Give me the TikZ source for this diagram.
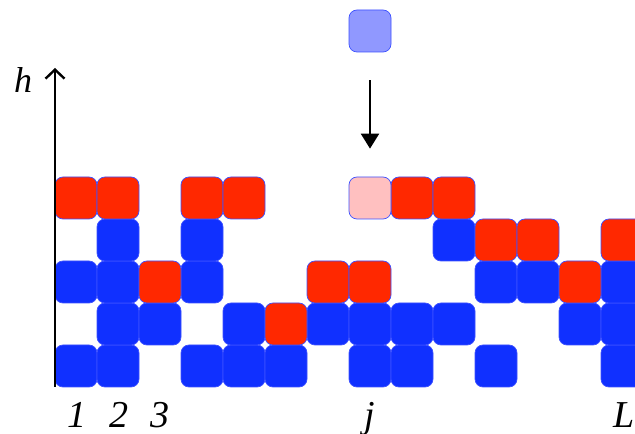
\documentclass[tikz,border=0pt]{standalone}
\usepackage{fontspec}
\setmainfont{Liberation Serif}
\usetikzlibrary{arrows.meta, positioning}
\definecolor{cellblue}{RGB}{16,48,255}
\definecolor{cellred}{RGB}{255,40,0}
\definecolor{cellpink}{RGB}{255,192,192}
\definecolor{droppale}{RGB}{144,152,255}
\definecolor{cellline}{RGB}{60,80,255}
\tikzset{cell/.style={draw=cellline, line width=0.7pt, rounded corners=8pt, minimum size=42pt, inner sep=0pt},
  bluecell/.style={cell, fill=cellblue},
  redcell/.style={cell, fill=cellred},
  lab/.style={anchor=base, inner sep=0pt, font=\fontsize{38}{38}\selectfont\itshape}}

\begin{document}
\begin{tikzpicture}[x=1pt, y=1pt]
    \useasboundingbox (0,0) rectangle (635,434);

    % Blue cells (column/row)
    \foreach \c/\r in {1/1,1/3,2/1,2/2,2/3,2/4,3/2,4/1,4/3,4/4,5/1,5/2,6/1,7/2,8/1,8/2,9/1,9/2,10/2,10/4,11/1,11/3,12/3,13/2,14/1,14/2,14/3}
        \node[bluecell] (c-\c-\r) at (34+42*\c, 26+42*\r) {};

    % Red cells
    \foreach \c/\r in {1/5,2/5,3/3,4/5,5/5,6/2,7/3,8/3,9/5,10/5,11/4,12/4,13/3,14/4}
        \node[redcell] (c-\c-\r) at (34+42*\c, 26+42*\r) {};

    % Landing place and falling cell
    \node[cell, fill=cellpink] (c-8-5) at (370, 236) {};
    \node[cell, fill=droppale] (drop) at (370, 403) {};
    \draw[line width=2.2pt, -{Triangle[length=15pt, width=18pt]}] ([yshift=-28pt]drop.south) -- ([yshift=28pt]c-8-5.north);

    % Height axis
    \coordinate (origin) at (55,47);
    \coordinate (htop) at (55,366);
    \draw[line width=2.4pt, -{Straight Barb[length=9pt, width=19pt]}] (origin) -- (htop);
    \node[lab, font=\fontsize{36}{36}\selectfont\itshape] (h) at (23,341) {h};

    % Column labels
    \node[lab] (n1) at (77,6) {1};
    \node[lab] (n2) at (119,6) {2};
    \node[lab] (n3) at (160,6) {3};
    \node[lab] (nj) at (370,6) {j};
    \node[lab] (nL) at (624,6) {L};
\end{tikzpicture}
\end{document}
